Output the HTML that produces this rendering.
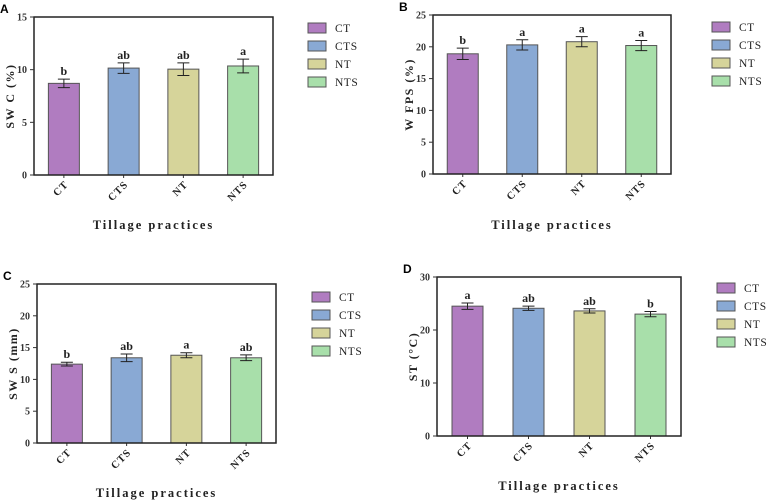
<!DOCTYPE html>
<html><head><meta charset="utf-8"><style>
html,body{margin:0;padding:0;background:#fff;}
svg{display:block;font-family:"Liberation Serif",serif;}
</style></head><body>
<svg id="chart" width="767" height="500" viewBox="0 0 767 500" xmlns="http://www.w3.org/2000/svg"></svg>
<script>
const categories = ["CT","CTS","NT","NTS"];
const colors = ["#b07cc0","#89a9d4","#d6d49a","#a8dfaa"];
const swcValues = [8.7,10.15,10.05,10.35];
const swcErrors = [0.4,0.5,0.6,0.65];
const swcLetters = ["b","ab","ab","a"];
const swcTicks = [0,5,10,15];
const wfpsValues = [18.9,20.3,20.8,20.2];
const wfpsErrors = [0.9,0.8,0.8,0.8];
const wfpsLetters = ["b","a","a","a"];
const wfpsTicks = [0,5,10,15,20,25];
const swsValues = [12.4,13.4,13.8,13.4];
const swsErrors = [0.3,0.6,0.4,0.45];
const swsLetters = ["b","ab","a","ab"];
const swsTicks = [0,5,10,15,20,25];
const stValues = [24.5,24.1,23.6,23.0];
const stErrors = [0.6,0.4,0.4,0.5];
const stLetters = ["a","ab","ab","b"];
const stTicks = [0,10,20,30];

const NS="http://www.w3.org/2000/svg";
const svg=document.getElementById('chart');
function mk(tag,attrs,parent,text){const e=document.createElementNS(NS,tag);for(const k in attrs)e.setAttribute(k,attrs[k]);if(text!==undefined)e.textContent=text;(parent||svg).appendChild(e);return e;}

function panel(p){
  const g=mk('g',{});
  
  
  const ymax=p.ticks[p.ticks.length-1];
  const y=v=>p.bottom-(v/ymax)*(p.bottom-p.top);
  const pitch=(p.right-p.left)/4;
  const bw=31;
  const x=i=>p.left+pitch*(i+0.5)-bw/2;
  const lab=mk('text',{x:p.left-34,y:p.top-4,'font-family':'Liberation Sans, sans-serif','font-weight':'bold','font-size':12},g,p.id);
  
  
  p.values.forEach((v,i)=>{
    const r=mk('rect',{x:x(i),y:y(v),width:bw,height:p.bottom-y(v),fill:colors[i],stroke:'#555','stroke-width':1},g);
    
    
    const cx=x(i)+bw/2, e=p.errors[i];
    const eb=mk('path',{d:`M${cx},${y(v+e)}V${y(v-e)}M${cx-6},${y(v+e)}H${cx+6}M${cx-6},${y(v-e)}H${cx+6}`,stroke:'#222','stroke-width':1,fill:'none'},g);
    
    
    const t=mk('text',{x:cx,y:y(v+e)-4,'text-anchor':'middle','font-size':12,'font-weight':'bold',fill:'#222'},g,p.letters[i]);
    
    
    const tl=mk('text',{x:0,y:0,'text-anchor':'end','font-size':10.5,'font-weight':'bold','letter-spacing':1,fill:'#222',transform:`translate(${cx+5},${p.bottom+10}) rotate(-45)`},g,categories[i]);
    
    
    mk('line',{x1:cx,x2:cx,y1:p.bottom,y2:p.bottom+3,stroke:'#333'},g);
  });
  const fr=mk('rect',{x:p.left,y:p.top,width:p.right-p.left,height:p.bottom-p.top,fill:'none',stroke:'#222','stroke-width':1.5},g);
  
  
  p.ticks.forEach(t=>{
    mk('line',{x1:p.left-4,x2:p.left,y1:y(t),y2:y(t),stroke:'#333'},g);
    const tt=mk('text',{x:p.left-7,y:y(t)+3.5,'text-anchor':'end','font-size':10,'font-weight':'bold',fill:'#333'},g,t);
    
    
  });
  const yt=mk('text',{x:0,y:0,'text-anchor':'middle','font-size':12,'font-weight':'bold','letter-spacing':1.5,fill:'#222',transform:`translate(${p.left-20},${(p.top+p.bottom)/2}) rotate(-90)`},g,p.ylabel);
  
  
  const xt=mk('text',{x:(p.left+p.right)/2,y:p.xlabY,'text-anchor':'middle','font-size':12.5,'font-weight':'bold','letter-spacing':2,fill:'#222'},g,'Tillage practices');
  
  
  categories.forEach((c,i)=>{
    const ly=p.legY+i*18;
    const lr=mk('rect',{x:p.legX,y:ly,width:18,height:10,fill:colors[i],stroke:'#555'},g);
    
    
    const lt=mk('text',{x:p.legX+27,y:ly+9,'font-size':11.5,'letter-spacing':0.5,fill:'#222'},g,c);
    
    
  });
}
panel({id:'A',left:34,right:273,top:17,bottom:175,ticks:swcTicks,values:swcValues,errors:swcErrors,letters:swcLetters,ylabel:'SW C (%)',xlabY:229,legX:308,legY:23});
panel({id:'B',left:433,right:671,top:15,bottom:174,ticks:wfpsTicks,values:wfpsValues,errors:wfpsErrors,letters:wfpsLetters,ylabel:'W FPS (%)',xlabY:229,legX:712,legY:22});
panel({id:'C',left:37,right:276,top:284,bottom:443,ticks:swsTicks,values:swsValues,errors:swsErrors,letters:swsLetters,ylabel:'SW S (mm)',xlabY:497,legX:312,legY:292});
panel({id:'D',left:437,right:681,top:277,bottom:436,ticks:stTicks,values:stValues,errors:stErrors,letters:stLetters,ylabel:'ST (°C)',xlabY:490,legX:717,legY:283});
</script>
</body></html>
